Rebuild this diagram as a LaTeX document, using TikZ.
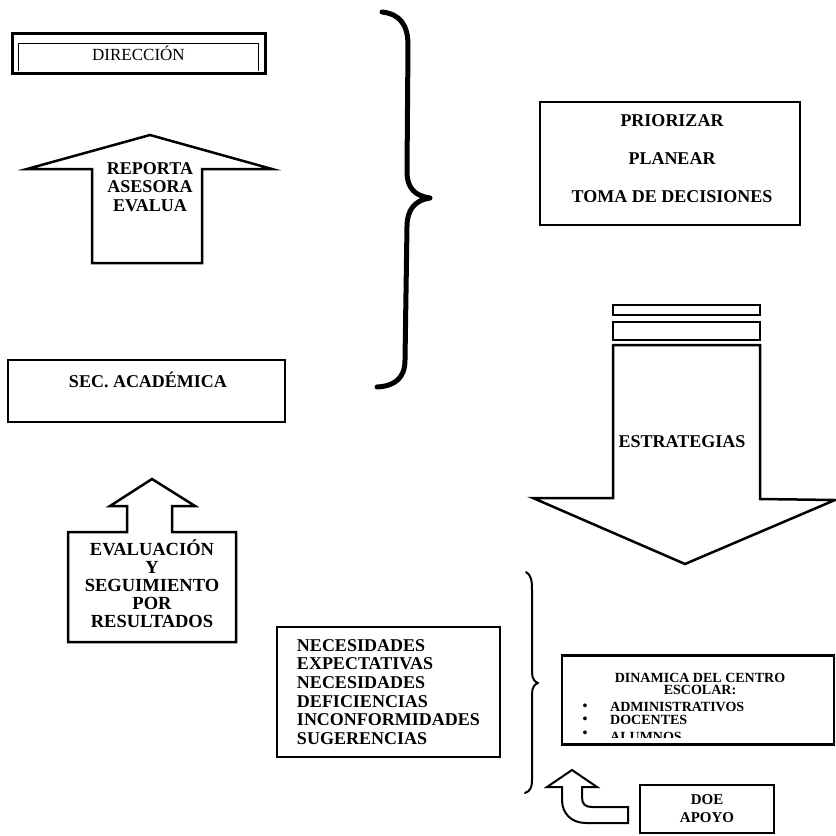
\documentclass[tikz,border=0pt]{standalone}
\usepackage{fontspec}
\setmainfont{Liberation Serif}
\begin{document}
\begin{tikzpicture}[x=1pt, y=-1pt, line join=miter,
  box/.style={draw, line width=2.5pt, inner sep=0pt},
  lbl/.style={font=\bfseries\fontsize{18}{18.5}\selectfont, align=center, inner sep=0pt},
  small/.style={font=\bfseries\fontsize{14}{12.5}\selectfont, align=center, inner sep=0pt},
  blk/.style={draw, line width=2.5pt},
  brace/.style={draw, line cap=round, line join=round}]
\useasboundingbox (0,0) rectangle (836,836);

\node  (dir)[box, line width=3pt, minimum width=253, minimum height=40, font=\fontsize{17}{17}\selectfont] at (138.5,53) {DIRECCIÓN};
\draw[line width=0.9pt] (18,71) -- (18,43) -- (258,43) -- (258,71);

\draw[blk] (150,135) -- (272,169) -- (202,169) -- (202,263) -- (92,263) -- (92,169) -- (27,169) -- cycle;
\node  (rep)[lbl] at (150,187) {REPORTA\\ASESORA\\EVALUA};

\node  (sec)[box, minimum width=277, minimum height=62] at (146.5,391) {};
\node  (seclbl)[lbl] at (148,380) {SEC. ACADÉMICA};

\draw[blk] (152,479) -- (195,506) -- (172,506) -- (172,532) -- (236,532) -- (236,642) -- (68,642) -- (68,532) -- (127,532) -- (127,506) -- (110,506) -- cycle;
\node  (eva)[lbl, font=\bfseries\fontsize{18.5}{18}\selectfont] at (152,584) {EVALUACIÓN\\Y\\SEGUIMIENTO\\POR\\RESULTADOS};

\path[brace, line width=5pt] (382,12) .. controls (400,14) and (408,25) .. (408,45)
  -- (407,172) .. controls (407,188) and (415,196) .. (430,198)
  .. controls (415,200) and (407,210) .. (407,226)
  -- (405,360) .. controls (405,378) and (395,386) .. (377,387);

\node  (pri)[box, minimum width=260, minimum height=123] at (670,163.5) {};
\node  (prilbl)[lbl, font=\bfseries\fontsize{18}{38}\selectfont] at (672,159) {PRIORIZAR\\PLANEAR\\TOMA DE DECISIONES};

\draw[blk] (613,305) rectangle (760,315);
\draw[blk] (613,322) rectangle (760,340);
\draw[blk] (613,345) -- (760,345) -- (760,499) -- (835,500) -- (685,564) -- (533,498) -- (613,498) -- cycle;
\node  (est)[lbl] at (682,442) {ESTRATEGIAS};

\path[brace, line width=2pt] (526,572) .. controls (531,575) and (532,580) .. (532,590)
  -- (532,672) .. controls (532,679) and (535,682) .. (538,683)
  .. controls (535,684) and (532,687) .. (532,694)
  -- (532,780) .. controls (532,788) and (530,791) .. (525,793);

\node  (nec)[box, minimum width=223, minimum height=130, align=left, font=\bfseries\fontsize{18}{18.6}\selectfont] at (388.5,692)
  {NECESIDADES\\EXPECTATIVAS\\NECESIDADES\\DEFICIENCIAS\\INCONFORMIDADES\\SUGERENCIAS};

\foreach \y [count=\i] in {707,720,734}
  \node  (bul\i)[small] at (585,\y) {\textbullet};
\begin{scope}
\clip (563,656) rectangle (833,737.5);
\node  (dinlbl)[small] at (700,684) {DINAMICA DEL CENTRO\\ESCOLAR:};
\foreach \y/\t [count=\i] in {707/ADMINISTRATIVOS, 720/DOCENTES, 737/ALUMNOS}
  \node  (item\i)[small, anchor=west] at (610,\y) {\t};
\end{scope}
\node  (din)[box, line width=2.5pt, minimum width=272, minimum height=89] at (698,700) {};

\draw[line width=2pt] (572,770) -- (597,787) -- (582,787) -- (582,797)
  .. controls (582,804) and (585,807) .. (592,807) -- (628,807) -- (628,823) -- (586,823)
  .. controls (571,823) and (562,813) .. (562,800) -- (562,787) -- (547,787) -- cycle;

\node  (doe)[box, minimum width=134, minimum height=48, align=center, font=\bfseries\fontsize{15}{18}\selectfont] at (707,809) {DOE\\APOYO};
\end{tikzpicture}
\end{document}
